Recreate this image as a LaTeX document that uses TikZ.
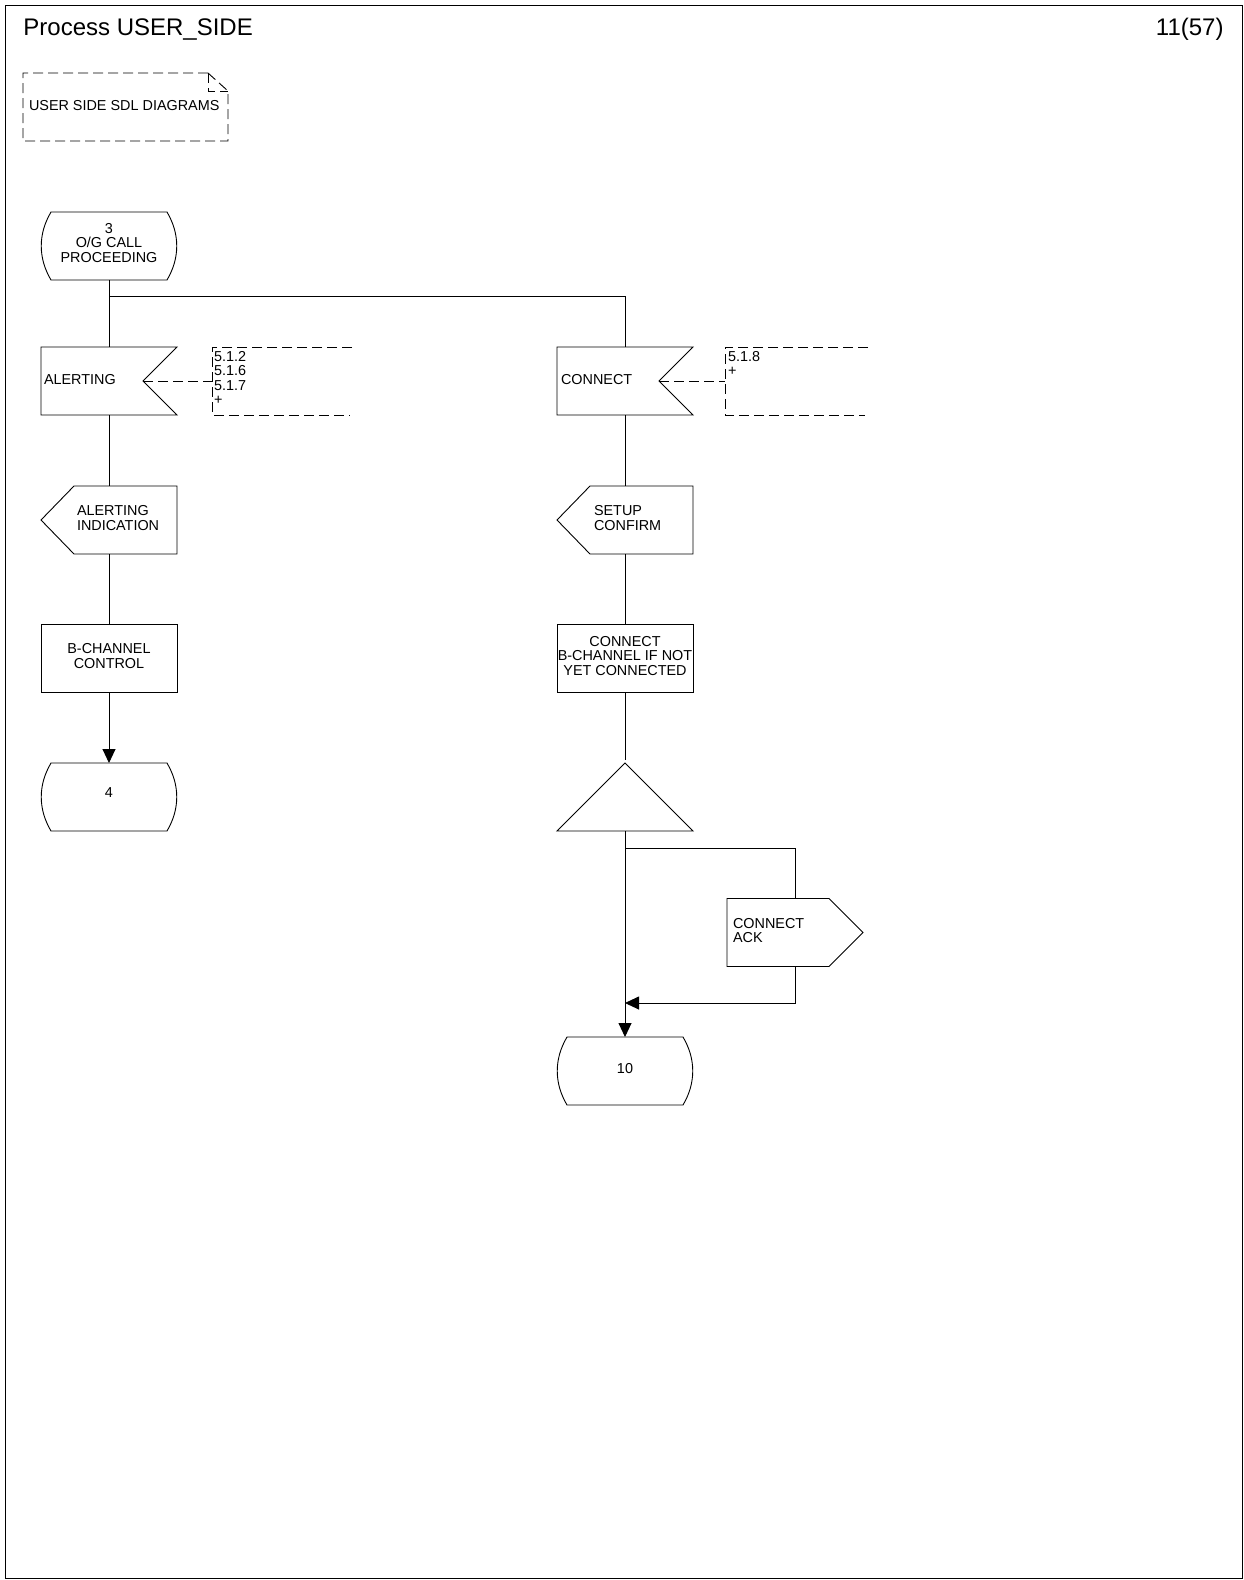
\documentclass[tikz,border=0pt]{standalone}
\usepackage{fontspec}
\setmainfont{Liberation Sans}
\usetikzlibrary{arrows.meta,calc}
\newcommand{\sdlstate}[1]{\draw ([xshift=10pt]#1.north west) -- ([xshift=-10pt]#1.north east) .. controls ([xshift=3pt,yshift=-22pt]#1.north east) and ([xshift=3pt,yshift=22pt]#1.south east) .. ([xshift=-10pt]#1.south east) -- ([xshift=10pt]#1.south west) .. controls ([xshift=-3pt,yshift=22pt]#1.south west) and ([xshift=-3pt,yshift=-22pt]#1.north west) .. ([xshift=10pt]#1.north west) -- cycle;}
\newcommand{\sdlinput}[1]{\draw (#1.north west) -- (#1.north east) -- ([xshift=-34pt]#1.east) -- (#1.south east) -- (#1.south west) -- cycle;}
\newcommand{\sdloutleft}[1]{\draw (#1.west) -- ([xshift=33pt]#1.north west) -- (#1.north east) -- (#1.south east) -- ([xshift=33pt]#1.south west) -- cycle;}
\newcommand{\sdloutright}[1]{\draw (#1.north west) -- ([xshift=-34pt]#1.north east) -- (#1.east) -- ([xshift=-34pt]#1.south east) -- (#1.south west) -- cycle;}
\begin{document}
\begin{tikzpicture}[x=1pt,y=-1pt, line width=0.9pt,
  font=\fontsize{14.4}{14.5}\selectfont,
  box/.style={minimum width=136pt, minimum height=68pt, inner sep=0pt, outer sep=0pt},
  taskbox/.style={box, draw},
  txt/.style={inner sep=0pt, outer sep=0pt, align=left},
  ctxt/.style={inner sep=0pt, outer sep=0pt, align=center},
  cmt/.style={dash pattern=on 10pt off 5pt},
  arr/.style={-{Triangle[length=14pt,width=13pt]}}]
\fill[white] (0,0) rectangle (1244,1580);
\useasboundingbox (0,0) rectangle (1244,1580);
% frame and header
\draw (5,5) rectangle (1242,1578);
\node[anchor=base west, inner sep=0pt, font=\fontsize{24}{28}\selectfont] (title) at (23,35) {Process USER\_SIDE};
\node[anchor=base east, inner sep=0pt, font=\fontsize{24}{28}\selectfont] (page) at (1224,35) {11(57)};
% text annotation
\draw[cmt] (208,73) -- (23,73) -- (23,141) -- (228,141) -- (228,91) -- cycle;
\draw[cmt] (208,73) -- (208,91) -- (228,91);
\node[txt, anchor=west] (annt) at (29,106) {USER SIDE SDL DIAGRAMS};
% left column
\node[box] (s3) at (109,246) {};
\sdlstate{s3}
\node[ctxt] (s3t) at ($(s3.center)+(0,-3)$) {3\\O/G CALL\\PROCEEDING};
\node[box] (alert) at (109,381) {};
\sdlinput{alert}
\node[txt, anchor=west] (alertt) at ($(alert.west)+(3,-1)$) {ALERTING};
\node[box] (ai) at (109,520) {};
\sdloutleft{ai}
\node[txt, anchor=west] (ait) at ($(ai.west)+(36,-2)$) {ALERTING\\INDICATION};
\node[taskbox] (bch) at (109,658) {};
\node[ctxt] (bcht) at ($(bch.center)+(0,-2)$) {B-CHANNEL\\CONTROL};
\node[box] (s4) at (109,797) {};
\sdlstate{s4}
\node[ctxt] (s4t) at ($(s4.center)+(0,-4)$) {4};
% right column
\node[box] (conn) at (625,381) {};
\sdlinput{conn}
\node[txt, anchor=west] (connt) at ($(conn.west)+(4,-1)$) {CONNECT};
\node[box] (sc) at (625,520) {};
\sdloutleft{sc}
\node[txt, anchor=west] (sct) at ($(sc.west)+(37,-2)$) {SETUP\\CONFIRM};
\node[taskbox] (cbch) at (625,658) {};
\node[ctxt] (cbcht) at ($(cbch.center)+(0,-2)$) {CONNECT\\B-CHANNEL IF NOT\\YET CONNECTED};
\node[box] (tri) at (625,797) {};
\draw (tri.north) -- (tri.south east) -- (tri.south west) -- cycle;
\coordinate (triin) at (625,760);
\node[box] (cack) at (795,932.5) {};
\sdloutright{cack}
\node[txt, anchor=west] (cackt) at ($(cack.west)+(6,-2)$) {CONNECT\\ACK};
\node[box] (s10) at (625,1071) {};
\sdlstate{s10}
\node[ctxt] (s10t) at ($(s10.center)+(0,-2)$) {10};
% connectors
\coordinate (br1) at (109,296);
\draw (s3.south) -- (alert.north);
\draw (br1) -| (conn.north);
\draw (alert.south) -- (ai.north);
\draw (ai.south) -- (bch.north);
\draw[arr] (bch.south) -- (s4.north);
\draw (conn.south) -- (sc.north);
\draw (sc.south) -- (cbch.north);
\draw (cbch.south) -- (triin);
\draw[arr] (tri.south) -- (s10.north);
\coordinate (br2) at (625,848);
\draw (br2) -| (cack.north);
\coordinate (mg) at (625,1003);
\draw[arr] (cack.south) |- (mg);
% comments
\coordinate (c1) at (212,381);
\draw[cmt] ($(alert.east)+(-34,0)$) -- (c1);
\draw[cmt] (352,347) -- (212,347) -- (212,415) -- (350,415);
\node[txt, anchor=north west] (cm1) at (214,351) {5.1.2\\5.1.6\\5.1.7\\+};
\coordinate (c2) at (725,381);
\draw[cmt] ($(conn.east)+(-34,0)$) -- (c2);
\draw[cmt] (868,347) -- (725,347) -- (725,415) -- (865,415);
\node[txt, anchor=north west] (cm2) at (728,351) {5.1.8\\+};
\end{tikzpicture}
\end{document}
